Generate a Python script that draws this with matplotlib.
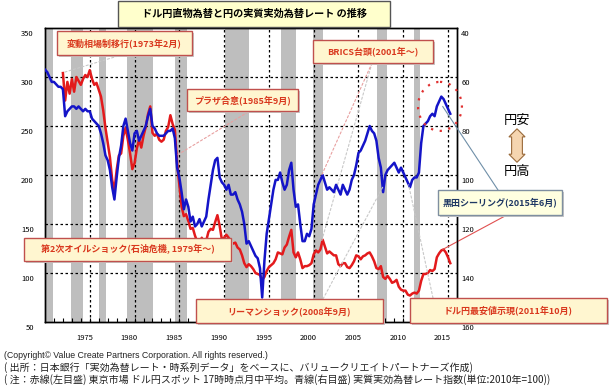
import matplotlib
matplotlib.use("Agg")
import matplotlib.pyplot as plt
import numpy as np
from matplotlib.patches import Rectangle, Ellipse
from matplotlib.transforms import ScaledTranslation

plt.rcParams['font.family'] = ['Noto Sans CJK JP', 'DejaVu Sans']

# --- data (quarterly) ---
# ドル円 (left axis), from 1973 Q1
usdjpy = [304, 276, 295, 283,
          298, 285, 300, 296,
          292, 298, 302, 300,
          307, 298, 292, 294,
          287, 280, 266, 248,
          233, 218, 195, 184,
          205, 220, 222, 240,
          248, 236, 222, 206,
          212, 227, 236, 228,
          240, 249, 262, 270,
          243, 240, 242, 236,
          234, 236, 245, 249,
          261, 252, 246, 212,
          190, 168, 158, 160,
          153, 145, 146, 138,
          132, 127, 136, 131,
          133, 142, 145, 144,
          152, 159, 148, 134,
          136, 139, 136, 132,
          130, 131, 126, 124,
          118, 110, 106, 109,
          107, 104, 100, 99,
          98, 93, 96, 102,
          106, 108, 110, 114,
          121, 120, 119, 126,
          129, 137, 144, 121,
          116, 121, 114, 105,
          107, 107, 108, 110,
          119, 123, 121, 124,
          134, 127, 120, 122,
          120, 118, 118, 109,
          107, 110, 110, 106,
          105, 108, 112, 118,
          117, 114, 117, 118,
          120, 121, 117, 112,
          105, 104, 107, 96,
          94, 97, 94, 90,
          91, 93, 86, 83,
          82, 82, 78, 77,
          79, 80, 79, 82,
          92, 99, 99, 100,
          103, 102, 104, 116,
          120, 123, 124, 121,
          116, 110]
red_start = 1973

# 実質実効為替レート 2010=100 (right axis, inverted), from 1971 Q1
reer = [57, 58, 60, 62,
        62, 63, 64, 64,
        65, 76, 74, 73,
        72, 72, 73, 72,
        73, 74, 73, 74,
        74, 77, 78, 79,
        80, 83, 87, 92,
        94, 98, 105, 110,
        101, 93, 88, 80,
        77, 82, 87, 90,
        83, 82, 86, 84,
        82, 80, 76, 73,
        80, 81, 83, 84,
        84, 84, 83, 82,
        82, 81, 85, 97,
        101, 107, 114, 110,
        113, 119, 117, 121,
        120, 118, 121, 119,
        117, 110, 104, 98,
        94, 93, 101, 103,
        104, 106, 104, 108,
        108, 107, 110, 112,
        115, 120, 128, 127,
        129, 131, 133, 134,
        138, 150, 135, 124,
        118, 112, 106, 102,
        102, 99, 103, 106,
        104, 98, 95, 106,
        113, 112, 120, 127,
        127, 124, 125, 122,
        112, 108, 104, 102,
        100, 103, 106, 105,
        106, 107, 104, 106,
        108, 104, 106, 108,
        106, 102, 100, 96,
        91, 90, 88, 86,
        83, 80, 82, 83,
        86, 93, 97, 107,
        100, 98, 97, 96,
        95, 97, 99, 97,
        99, 101, 103, 105,
        102, 101, 101, 99,
        87, 80, 79, 78,
        76, 75, 76, 72,
        70, 68, 69, 71,
        73, 75]
blue_start = 1971

# 景気後退期 (gray bands)
recessions = [(1971.0, 1971.9), (1973.9, 1975.2), (1977.0, 1977.8),
              (1980.1, 1983.1), (1985.5, 1986.8), (1991.1, 1993.8),
              (1997.4, 1999.0), (2000.9, 2002.0), (2008.1, 2009.2),
              (2012.2, 2012.9)]

year_labels = [1975, 1980, 1985, 1990, 1995, 2000, 2005, 2010, 2015]
grid_years = [1976, 1981, 1986, 1991, 1996, 2001, 2006, 2011, 2016]
left_ticks = [50, 100, 150, 200, 250, 300, 350]
right_ticks = [40, 60, 80, 100, 120, 140, 160]

title = "ドル円直物為替と円の実質実効為替レート の推移"
footer = ["(Copyright© Value Create Partners Corporation. All rights reserved.)",
          "( 出所：日本銀行「実効為替レート・時系列データ」をベースに、バリュークリエイトパートナーズ作成)",
          "( 注：赤線(左目盛) 東京市場 ドル円スポット 17時時点月中平均。青線(右目盛) 実質実効為替レート指数(単位:2010年=100))"]

W, H = 609, 391
fig = plt.figure(figsize=(W / 100, H / 100), dpi=100)


def fx(x):
    return x / W


def fy(y):
    return 1 - y / H


ax = fig.add_axes([fx(45), fy(322), 412 / W, 294 / H])
ax2 = ax.twinx()

for s, e in recessions:
    ax.axvspan(s, e, color='#BEBEBE', lw=0, zorder=0)
for g in grid_years:
    ax.axvline(g, color='black', lw=0.9, ls=(0, (2, 2)), zorder=1)
for v in left_ticks[1:-1]:
    ax.axhline(v, color='black', lw=0.9, ls=(0, (2, 2)), zorder=1)

t_red = red_start + np.arange(len(usdjpy)) / 4
t_blue = blue_start + np.arange(len(reer)) / 4
ax.plot(t_red, usdjpy, color='#E31A1C', lw=1.8, zorder=3, solid_joinstyle='round')
ax2.plot(t_blue, reer, color='#1414C8', lw=1.8, zorder=3, solid_joinstyle='round')

ax.set_xlim(1971, 2017)
ax.set_ylim(50, 350)
ax2.set_ylim(160, 40)

ax.set_xticks([y + 0.4 for y in year_labels])
ax.set_xticklabels([str(y) for y in year_labels])
ax.set_xticks(np.arange(1972, 2017), minor=True)
ax.tick_params(axis='x', which='major', length=0, pad=9, labelsize=5.5)
ax.tick_params(axis='x', which='minor', direction='in', length=3, width=0.8)
ax.set_yticks(left_ticks)
ax.tick_params(axis='y', length=0, pad=8, labelsize=5.5)
ax2.set_yticks(right_ticks)
ax2.tick_params(axis='y', length=0, pad=3, labelsize=5.5)
for a in (ax, ax2):
    for sp in a.spines.values():
        sp.set_linewidth(1.0)
        sp.set_color('black')

off = ScaledTranslation(0, -0.05, fig.dpi_scale_trans)
for lbl in ax.get_yticklabels() + ax2.get_yticklabels():
    lbl.set_transform(lbl.get_transform() + off)


def box(x0, y0, x1, y1, text, tc='#D9381E', ec='#C0504D', fc='#FFF6D0',
        fs=6.5, shadow=True):
    if shadow:
        fig.add_artist(Rectangle((fx(x0 + 2), fy(y1 + 2)), (x1 - x0) / W, (y1 - y0) / H,
                                 transform=fig.transFigure, fc='#C8C8C8', ec='none', zorder=4))
    fig.add_artist(Rectangle((fx(x0), fy(y1)), (x1 - x0) / W, (y1 - y0) / H,
                             transform=fig.transFigure, fc=fc, ec=ec, lw=1.0, zorder=5))
    fig.text(fx((x0 + x1) / 2), fy((y0 + y1) / 2), text, ha='center', va='center',
             color=tc, fontsize=fs, fontweight='bold', zorder=6)


def pointer(a, xy, x, y, color='#C8C8C8', ls=(0, (2, 2)), lw=0.8):
    a.annotate('', xy=xy, xycoords='data', xytext=(fx(x), fy(y)),
               textcoords='figure fraction', annotation_clip=False,
               arrowprops=dict(arrowstyle='-', color=color, ls=ls, lw=lw,
                               shrinkA=0, shrinkB=0), zorder=4)


# pointer lines
pointer(ax, (1973.2, 305), 118, 56)
pointer(ax, (1985.7, 220), 248, 112, color='#E8A0A0')
pointer(ax2, (2001.9, 100), 372, 63, color='#E8A0A0')
pointer(ax, (2001.9, 133), 372, 63)
pointer(ax2, (2008.7, 105), 323, 299)
pointer(ax2, (2011.6, 104), 433, 298)
pointer(ax2, (2015.4, 72), 498, 190, color='#6F8FA8', ls='-')
pointer(ax, (2015.4, 124), 505, 216, color='#E05050', ls='-')

# dotted circle around recent yen weakness
ax2.add_patch(Ellipse((2015.1, 72), 4.9, 20, fill=False, ec='#E03030',
                      ls=(0, (1, 3)), lw=1.6, zorder=5, clip_on=False))

# annotation boxes
box(118, 1, 390, 27, title, tc='black', ec='#555555', fc='#FFFFCC', fs=7.3, shadow=False)
box(57, 31, 192, 55, "変動相場制移行(1973年2月)")
box(187, 89, 298, 111, "プラザ合意(1985年9月)")
box(313, 40, 433, 63, "BRICS台頭(2001年～)")
box(24, 238, 231, 261, "第2次オイルショック(石油危機, 1979年～)")
box(196, 299, 383, 323, "リーマンショック(2008年9月)")
box(410, 298, 607, 323, "ドル円最安値示現(2011年10月)")
box(438, 190, 562, 215, "黒田シーリング(2015年6月)", tc='#1F3864', ec='#7F8FA0',
    fc='#FFFFE0')

# 円安 / 円高 arrow
fig.text(fx(517), fy(120), "円安", ha='center', va='center', fontsize=9.5)
fig.text(fx(517), fy(172), "円高", ha='center', va='center', fontsize=9.5)
fig.text(fx(517), fy(146), "\u3000\u3000\u3000", ha='center', va='center', fontsize=5,
         rotation=90,
         bbox=dict(boxstyle='darrow,pad=0.2', fc='#F5D5B0', ec='#9A6A3A', lw=0.8))

# footer
fig.text(fx(4), fy(356), footer[0], ha='left', va='center', fontsize=6.3,
         color='#222222', family=['Liberation Sans Narrow', 'Liberation Sans'])
for i, line in enumerate(footer[1:]):
    fig.text(fx(4), fy(368 + 12 * i), line, ha='left', va='center', fontsize=7.2,
             color='#222222')

fig.savefig('out.png', dpi=100)
